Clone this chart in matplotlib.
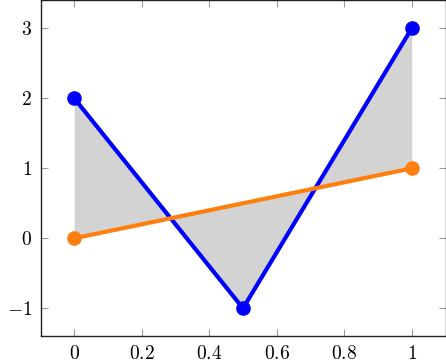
import matplotlib
matplotlib.use("Agg")
import matplotlib.pyplot as plt
import numpy as np

plt.rcParams["mathtext.fontset"] = "cm"
plt.rcParams["font.family"] = "serif"
plt.rcParams["font.serif"] = ["DejaVu Serif"]

x_blue = [0, 0.5, 1]
y_blue = [2, -1, 3]
x_orange = [0, 1]
y_orange = [0, 1]
xticks = [0, 0.2, 0.4, 0.6, 0.8, 1]
yticks = [-1, 0, 1, 2, 3]

fig = plt.figure(figsize=(4.46, 3.64), dpi=100)
ax = fig.add_axes([40.5 / 446, 27.7 / 364, 405 / 446, 336 / 364])

# fill between the two series, with crossings
xf = np.linspace(0, 1, 401)
yb = np.interp(xf, x_blue, y_blue)
yo = np.interp(xf, x_orange, y_orange)
ax.fill_between(xf, yb, yo, color="#d3d3d3", linewidth=0, zorder=1)

ax.plot(x_blue, y_blue, color="#0000ff", lw=3, marker="o", ms=9.5, zorder=3)
ax.plot(x_orange, y_orange, color="#ff7f0e", lw=3, marker="o", ms=9.5, zorder=4)

ax.set_xlim(-0.1, 1.1)
ax.set_ylim(-1.4, 3.4)
ax.set_xticks(xticks)
ax.set_yticks(yticks)
ax.set_xticklabels(["$%g$" % v for v in xticks], fontsize=14)
ax.set_yticklabels(["$%g$" % v if v >= 0 else "$-%g$" % abs(v) for v in yticks], fontsize=14)
ax.tick_params(direction="in", length=5, width=0.8, color="#999999",
               top=True, right=True, pad=6)
for s in ax.spines.values():
    s.set_linewidth(1.0)
    s.set_color("#222222")

fig.savefig("out.png", dpi=100)
